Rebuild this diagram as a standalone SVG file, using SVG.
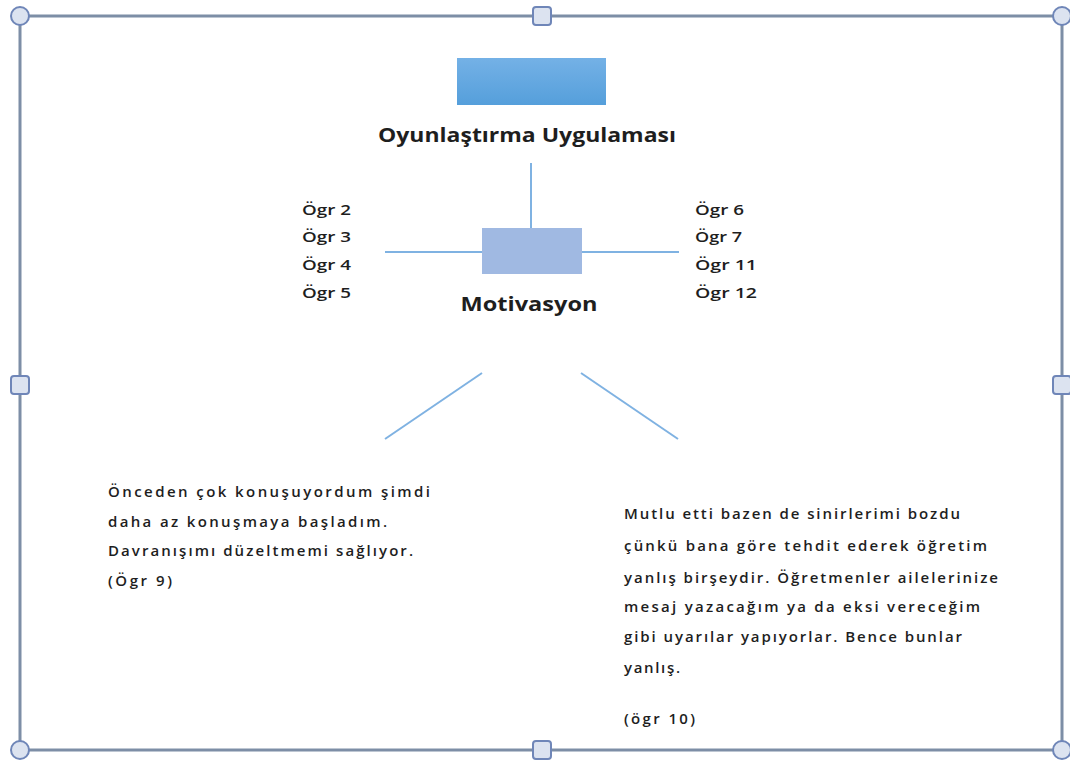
<svg xmlns="http://www.w3.org/2000/svg" width="1070" height="767" viewBox="0 0 1070 767">
  <defs>
    <linearGradient id="topFill" x1="0" y1="0" x2="0" y2="1">
      <stop offset="0" stop-color="#74b1e6"/>
      <stop offset="1" stop-color="#559fdb"/>
    </linearGradient>
    <style>
      .frame { fill: none; stroke: #7d8ea6; stroke-width: 3; }
      .handle { fill: #dce3f0; stroke: #6f86b8; stroke-width: 2; }
      .link { stroke: #7fb2e2; stroke-width: 2; fill: none; }
      text { font-family: "Open Sans", "Liberation Sans", sans-serif; fill: #1e1e1e; }
      .title { font-size: 19px; font-weight: bold; }
      .label { font-size: 15px; font-weight: 600; }
      .quote { font-size: 15px; font-weight: 600; }
    </style>
  </defs>
  <rect width="1070" height="767" fill="#ffffff"/>

  <!-- selection frame with handles -->
  <g id="frame">
    <rect class="frame" x="20" y="16" width="1042" height="734"/>
    <circle class="handle" cx="20" cy="16" r="9"/>
    <circle class="handle" cx="1062" cy="16" r="9"/>
    <circle class="handle" cx="20" cy="750" r="9"/>
    <circle class="handle" cx="1062" cy="750" r="9"/>
    <rect class="handle" x="533" y="7" width="18" height="18" rx="3"/>
    <rect class="handle" x="533" y="741" width="18" height="18" rx="3"/>
    <rect class="handle" x="11" y="376" width="18" height="18" rx="3"/>
    <rect class="handle" x="1053" y="376" width="18" height="18" rx="3"/>
  </g>

  <!-- connectors -->
  <g id="connectors">
    <line class="link" x1="531" y1="163" x2="531" y2="228"/>
    <line class="link" x1="385" y1="252" x2="482" y2="252"/>
    <line class="link" x1="582" y1="252" x2="679" y2="252"/>
    <line class="link" x1="482" y1="373" x2="385" y2="439"/>
    <line class="link" x1="581" y1="373" x2="678" y2="439"/>
  </g>

  <g id="node-oyun">
    <rect x="457" y="58" width="149" height="47" fill="url(#topFill)"/>
    <text class="title" x="527" y="142" text-anchor="middle" textLength="298" lengthAdjust="spacingAndGlyphs">Oyunlaştırma Uygulaması</text>
  </g>

  <g id="node-motivasyon">
    <rect x="482" y="228" width="100" height="46" fill="#a0b9e2"/>
    <text class="title" x="529" y="311" text-anchor="middle" textLength="137" lengthAdjust="spacingAndGlyphs">Motivasyon</text>
  </g>

  <g id="node-left-students">
    <text class="label" x="302" y="215" textLength="49" lengthAdjust="spacingAndGlyphs">Ögr 2</text>
    <text class="label" x="302" y="242" textLength="49" lengthAdjust="spacingAndGlyphs">Ögr 3</text>
    <text class="label" x="302" y="270" textLength="49" lengthAdjust="spacingAndGlyphs">Ögr 4</text>
    <text class="label" x="302" y="298" textLength="49" lengthAdjust="spacingAndGlyphs">Ögr 5</text>
  </g>

  <g id="node-right-students">
    <text class="label" x="695" y="215" textLength="49" lengthAdjust="spacingAndGlyphs">Ögr 6</text>
    <text class="label" x="695" y="242" textLength="47" lengthAdjust="spacingAndGlyphs">Ögr 7</text>
    <text class="label" x="695" y="270" textLength="62" lengthAdjust="spacingAndGlyphs">Ögr 11</text>
    <text class="label" x="695" y="298" textLength="62" lengthAdjust="spacingAndGlyphs">Ögr 12</text>
  </g>

  <g id="node-quote-9">
    <text class="quote" x="108" y="497" textLength="322" lengthAdjust="spacing">Önceden çok konuşuyordum  şimdi</text>
    <text class="quote" x="108" y="527" textLength="279" lengthAdjust="spacing">daha az konuşmaya  başladım.</text>
    <text class="quote" x="108" y="556" textLength="305" lengthAdjust="spacing">Davranışımı düzeltmemi sağlıyor.</text>
    <text class="quote" x="108" y="586" textLength="64" lengthAdjust="spacing">(Ögr 9)</text>
  </g>

  <g id="node-quote-10">
    <text class="quote" x="624" y="519" textLength="336" lengthAdjust="spacing">Mutlu etti bazen de sinirlerimi bozdu</text>
    <text class="quote" x="624" y="551" textLength="363" lengthAdjust="spacing">çünkü bana göre tehdit ederek öğretim</text>
    <text class="quote" x="624" y="583" textLength="374" lengthAdjust="spacing">yanlış birşeydir. Öğretmenler ailelerinize</text>
    <text class="quote" x="624" y="612" textLength="356" lengthAdjust="spacing">mesaj yazacağım  ya da eksi vereceğim</text>
    <text class="quote" x="624" y="642" textLength="338" lengthAdjust="spacing">gibi uyarılar yapıyorlar. Bence bunlar</text>
    <text class="quote" x="624" y="673" textLength="56" lengthAdjust="spacing">yanlış.</text>
    <text class="quote" x="624" y="724" textLength="71" lengthAdjust="spacing">(ögr 10)</text>
  </g>
</svg>
